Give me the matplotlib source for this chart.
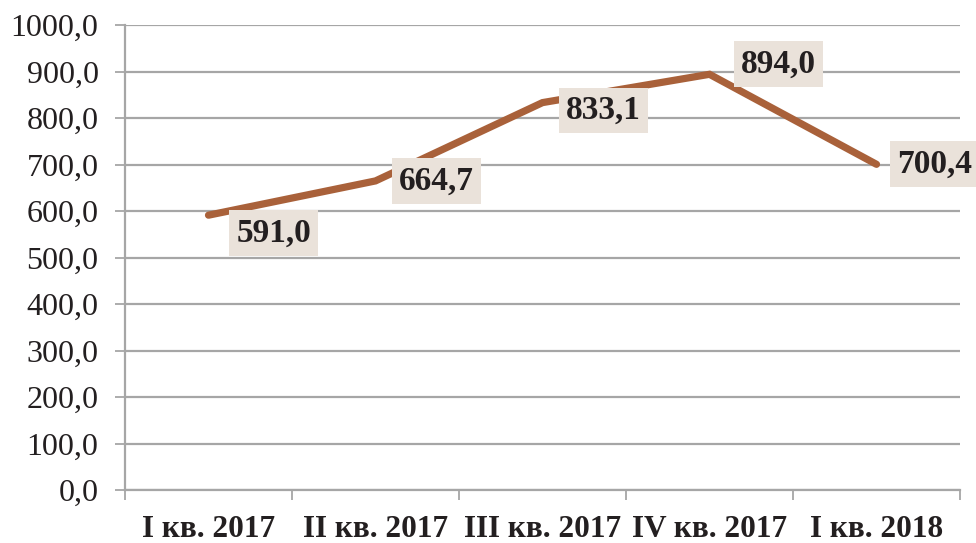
import matplotlib
matplotlib.use("Agg")
import matplotlib.pyplot as plt
import numpy as np

categories = ["I кв. 2017", "II кв. 2017", "III кв. 2017", "IV кв. 2017", "I кв. 2018"]
values = [591.0, 664.7, 833.1, 894.0, 700.4]
yticks = [0, 100, 200, 300, 400, 500, 600, 700, 800, 900, 1000]
# label offsets in pixels (dx, dy) relative to point
label_offsets = [(65, -18), (61, 0), (61, -8), (69, 10), (58, 0)]

W, H = 976, 543
fig = plt.figure(figsize=(W / 100, H / 100), dpi=100)
ax = fig.add_axes([125 / W, 1 - 490 / H, (960 - 125) / W, (490 - 25) / H])

txt = "#231F20"
grid = "#A6A6A6"
linec = "#A9613A"
boxc = "#EAE2DA"
serif = ["Liberation Serif", "DejaVu Serif"]

x = np.arange(len(categories))
ax.plot(x, values, color=linec, lw=5.2, solid_capstyle="round", solid_joinstyle="miter", zorder=3)

ax.set_xlim(-0.5, len(categories) - 0.5)
ax.set_ylim(0, 1000)
ax.set_yticks(yticks)
ax.set_yticklabels([f"{v:.1f}".replace(".", ",") for v in yticks], fontfamily=serif, fontsize=23, color=txt)
ax.yaxis.grid(True, color=grid, lw=1.6)
ax.set_axisbelow(True)

ax.set_xticks(x)
ax.set_xticklabels(categories, fontfamily=serif, fontsize=22.5, fontweight="bold", color=txt)
ax.set_xticks(np.arange(-0.5, len(categories)), minor=True)
ax.tick_params(axis="x", which="major", length=0, pad=18)
ax.tick_params(axis="x", which="minor", length=7, width=1.3, color=grid)
ax.tick_params(axis="y", length=7, width=1.3, color=grid, pad=12)

for s in ["top", "right"]:
    ax.spines[s].set_visible(False)
for s in ["left", "bottom"]:
    ax.spines[s].set_color(grid)
    ax.spines[s].set_linewidth(1.6)

for xi, v, (dx, dy) in zip(x, values, label_offsets):
    ax.annotate(f"{v:.1f}".replace(".", ","), (xi, v), xytext=(dx * 0.72, dy * 0.72),
                textcoords="offset points", ha="center", va="center",
                fontfamily=serif, fontsize=24, fontweight="bold", color=txt,
                bbox=dict(boxstyle="square,pad=0.22", fc=boxc, ec="none"),
                zorder=5, annotation_clip=False)

fig.savefig("out.png", dpi=100)
